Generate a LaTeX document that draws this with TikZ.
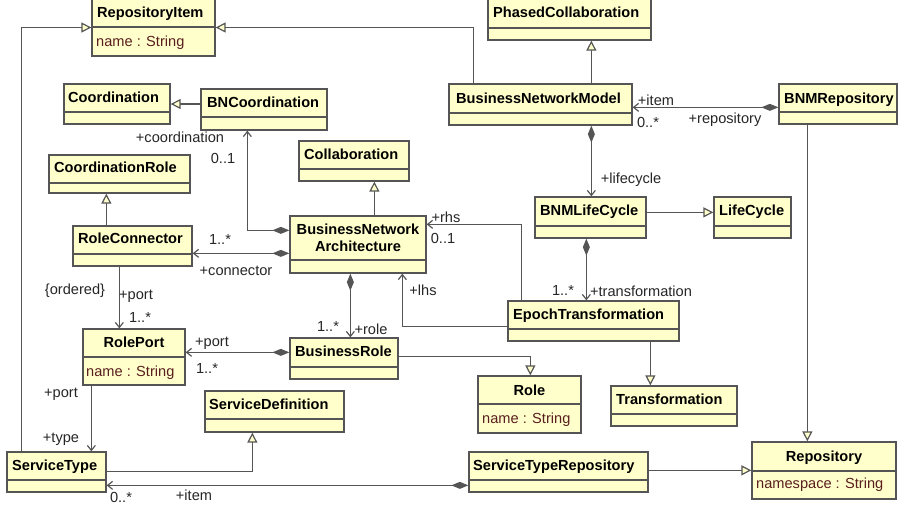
\documentclass[tikz,border=0pt]{standalone}
\usepackage{fontspec}
\setmainfont{Liberation Sans}
\usetikzlibrary{arrows.meta,fit}

\definecolor{boxfill}{HTML}{FFFFCC}
\definecolor{edge}{HTML}{555555}
\definecolor{attrcol}{HTML}{5A1E1E}
\definecolor{lblcol}{HTML}{262626}

\tikzset{
  classbox/.style={draw=edge, fill=boxfill, line width=1.3pt, inner sep=0pt},
  sepline/.style={draw=edge, line width=1.3pt},
  txt/.style={font=\fontsize{14.6}{17}\selectfont, inner sep=0pt},
  cname/.style={txt, font=\fontsize{14.6}{17}\selectfont\bfseries, anchor=base west},
  cnamec/.style={txt, font=\fontsize{14.6}{17}\selectfont\bfseries, anchor=base},
  attrib/.style={txt, text=attrcol, anchor=base west},
  endlabel/.style={txt, text=lblcol, text height=10.5pt, text depth=3pt, anchor=center},
  conn/.style={draw=edge, line width=1.2pt},
  gen/.style={conn, -{Triangle[length=10pt,width=10pt,fill=boxfill]}},
  nav/.style={conn, -{Straight Barb[length=5pt,width=8pt]}},
  comp/.style={conn, {Diamond[length=17pt,width=7pt]}-{Straight Barb[length=5pt,width=8pt]}},
}

% class box: name, x1, y1, x2, y2, y of the compartment line
\newcommand{\umlclass}[6]{%
  \node[classbox, fit={(#2,#3) (#4,#5)}] (#1) {};
  \draw[sepline] (#2,#6) -- (#4,#6);}

\begin{document}
\begin{tikzpicture}[x=1pt,y=-1pt]
\useasboundingbox (0,0) rectangle (899,509);

% ---- classes ----
\umlclass{RI}{92}{-1}{215}{56}{27}
\umlclass{Coord}{64}{84}{170}{124}{112}
\umlclass{BNC}{201}{89}{327}{130}{117}
\umlclass{Collab}{299}{141}{409}{181}{169}
\umlclass{CR}{49}{155}{190}{193}{183}
\umlclass{PC}{488}{-1}{651}{40}{28}
\umlclass{BNM}{449}{84}{632}{125}{113}
\umlclass{BNMR}{779}{84}{897}{124}{112}
\umlclass{LC}{535}{197}{646}{238}{226}
\umlclass{LifeC}{714}{197}{791}{238}{226}
\umlclass{RC}{73}{226}{192}{266}{254}
\umlclass{BNA}{290}{216}{426}{273}{260}
\umlclass{ET}{508}{301}{679}{341}{329}
\umlclass{RP}{83}{329}{185}{385}{357}
\umlclass{BR}{290}{338}{398}{379}{367}
\umlclass{Role}{478}{376}{581}{433}{404}
\umlclass{Trans}{611}{386}{737}{426}{414}
\umlclass{SD}{205}{391}{344}{432}{419}
\umlclass{ST}{7}{452}{106}{492}{480}
\umlclass{STR}{469}{452}{648}{492}{480}
\umlclass{Repo}{752}{442}{896}{499}{471}

% ---- class names and attributes ----
\node[cname] (RI-n) at (97,17) {RepositoryItem};
\node[attrib] (RI-a) at (96,46) {name : String};
\node[cname] (Coord-n) at (68,102) {Coordination};
\node[cname] (BNC-n) at (207,107) {BNCoordination};
\node[cname] (Collab-n) at (304,159) {Collaboration};
\node[cname] (CR-n) at (54,172) {CoordinationRole};
\node[cname] (PC-n) at (493,17) {PhasedCollaboration};
\node[cname] (BNM-n) at (456,103) {BusinessNetworkModel};
\node[cname] (BNMR-n) at (784,103) {BNMRepository};
\node[cname] (LC-n) at (540,215) {BNMLifeCycle};
\node[cname] (LifeC-n) at (719,215) {LifeCycle};
\node[cname] (RC-n) at (78,243) {RoleConnector};
\node[cnamec] (BNA-n1) at (358,234) {BusinessNetwork};
\node[cnamec] (BNA-n2) at (358,251) {Architecture};
\node[cname] (ET-n) at (513,319) {EpochTransformation};
\node[cnamec] (RP-n) at (134,347) {RolePort};
\node[attrib] (RP-a) at (86,376) {name : String};
\node[cname] (BR-n) at (295,356) {BusinessRole};
\node[cnamec] (Role-n) at (529.5,395) {Role};
\node[attrib] (Role-a) at (482,423) {name : String};
\node[cname] (Trans-n) at (616,404) {Transformation};
\node[cname] (SD-n) at (209,409) {ServiceDefinition};
\node[cname] (ST-n) at (12,470) {ServiceType};
\node[cname] (STR-n) at (473,470) {ServiceTypeRepository};
\node[cnamec] (Repo-n) at (824,461) {Repository};
\node[attrib] (Repo-a) at (756,488) {namespace : String};

% ---- generalizations ----
\draw[gen] ([xshift=15pt]ST.north west) |- (RI.west);
\draw[gen] ([xshift=25pt]BNM.north west) |- (RI.east);
\draw[gen] (BNC.west |- Coord.east) -- (Coord.east);
\draw[gen] ([xshift=85pt]BNA.north west) coordinate (p5) -- (p5 |- Collab.south);
\draw[gen] ([xshift=34pt]RC.north west) coordinate (p6) -- (p6 |- CR.south);
\draw[gen] ([xshift=143pt]BNM.north west) coordinate (p13) -- (p13 |- PC.south);
\draw[gen] ([yshift=-16pt]LC.north east) coordinate (p16) -- (p16 -| LifeC.west);
\draw[gen] ([xshift=143pt]ET.south west) coordinate (p18) -- (p18 |- Trans.north);
\draw[gen] ([yshift=-19pt]BR.north east) -| ([xshift=53pt]Role.north west);
\draw[gen] ([xshift=29pt]BNMR.south west) coordinate (p20) -- (p20 |- Repo.north);
\draw[gen] ([yshift=-19pt]STR.north east) coordinate (p21) -- (p21 -| Repo.west);
\draw[gen] ([yshift=-20pt]ST.north east) -| ([xshift=48pt]SD.south west);

% ---- compositions ----
\draw[comp] ([yshift=-15pt]BNA.north west) -| ([xshift=47pt]BNC.south west);
\draw[comp] ([yshift=-38pt]BNA.north west) coordinate (p7) -- (p7 -| RC.east);
\draw[comp] ([yshift=-15pt]BR.north west) coordinate (p9) -- (p9 -| RP.east);
\draw[comp] ([xshift=61pt]BNA.south west) coordinate (p10) -- (p10 |- BR.north);
\draw[comp] ([yshift=-24pt]BNMR.north west) coordinate (p14) -- (p14 -| BNM.east);
\draw[comp] ([xshift=143pt]BNM.south west) coordinate (p15) -- (p15 |- LC.north);
\draw[comp] ([xshift=52pt]LC.south west) coordinate (p17) -- (p17 |- ET.north);
\draw[comp] ([yshift=-34pt]STR.north west) coordinate (p23) -- (p23 -| ST.east);

% ---- directed associations ----
\draw[nav] ([xshift=47pt]RC.south west) coordinate (p8) -- (p8 |- RP.north);
\draw[nav] ([yshift=-26pt]ET.north west) -| ([xshift=113pt]BNA.south west);
\draw[nav] ([xshift=14pt]ET.north west) |- ([yshift=-9pt]BNA.north east);
\draw[nav] ([xshift=9pt]RP.south west) coordinate (p24) -- (p24 |- ST.north);

% ---- association end labels ----
\node[endlabel] (l1) at (180,139) {+coordination};
\node[endlabel] (l2) at (223,160) {0..1};
\node[endlabel] (l3) at (220,241) {1..*};
\node[endlabel] (l4) at (236,272) {+connector};
\node[endlabel] (l5) at (75,291) {\{ordered\}};
\node[endlabel] (l6) at (136,296) {+port};
\node[endlabel] (l7) at (140,319) {1..*};
\node[endlabel] (l8) at (328,328) {1..*};
\node[endlabel] (l9) at (371,331) {+role};
\node[endlabel] (l10) at (423,292) {+lhs};
\node[endlabel] (l11) at (446,219) {+rhs};
\node[endlabel] (l12) at (443,240) {0..1};
\node[endlabel] (l13) at (212,343) {+port};
\node[endlabel] (l14) at (207,370) {1..*};
\node[endlabel] (l15) at (61,394) {+port};
\node[endlabel] (l16) at (61,439) {+type};
\node[endlabel] (l17) at (121,499) {0..*};
\node[endlabel] (l18) at (194,497) {+item};
\node[endlabel] (l19) at (656,102) {+item};
\node[endlabel] (l20) at (648,124) {0..*};
\node[endlabel] (l21) at (725,120) {+repository};
\node[endlabel] (l22) at (631,180) {+lifecycle};
\node[endlabel] (l23) at (563,292) {1..*};
\node[endlabel] (l24) at (641,293) {+transformation};
\end{tikzpicture}
\end{document}
